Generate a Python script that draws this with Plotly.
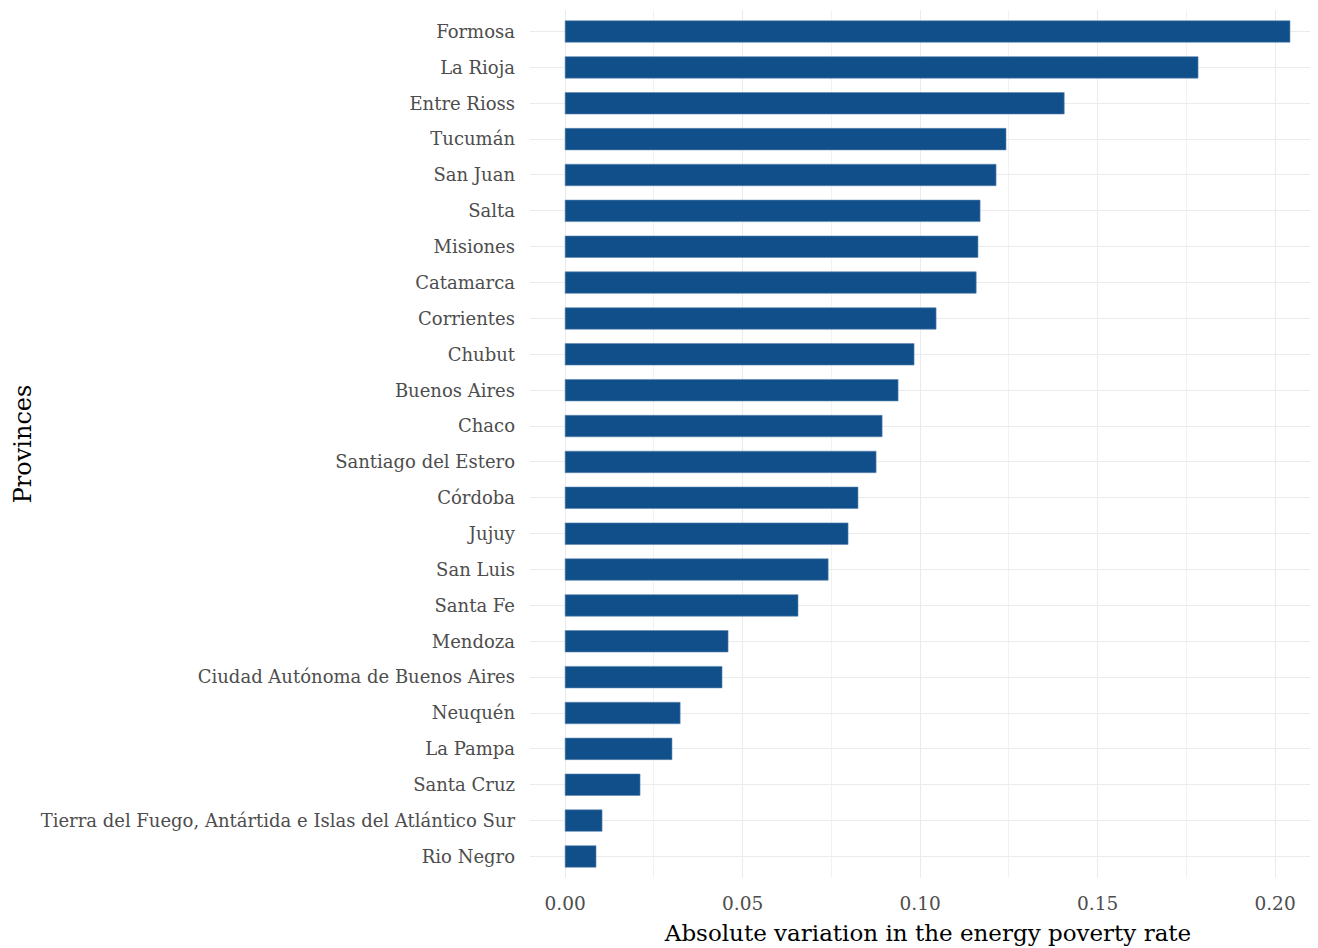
import plotly.graph_objects as go

provinces = ["Formosa", "La Rioja", "Entre Rioss", "Tucumán", "San Juan", "Salta", "Misiones",
             "Catamarca", "Corrientes", "Chubut", "Buenos Aires", "Chaco", "Santiago del Estero",
             "Córdoba", "Jujuy", "San Luis", "Santa Fe", "Mendoza", "Ciudad Autónoma de Buenos Aires",
             "Neuquén", "La Pampa", "Santa Cruz", "Tierra del Fuego, Antártida e Islas del Atlántico Sur",
             "Rio Negro"]
values = [0.2042, 0.1783, 0.1406, 0.1242, 0.1214, 0.1169, 0.1163, 0.1158, 0.1045, 0.0983,
          0.0938, 0.0893, 0.0876, 0.0825, 0.0797, 0.0741, 0.0656, 0.0459, 0.0442, 0.0324,
          0.0301, 0.0211, 0.0104, 0.0087]
tick_vals = [0.0, 0.05, 0.10, 0.15, 0.20]
tick_text = ["0.00", "0.05", "0.10", "0.15", "0.20"]

FONT = "DejaVu Serif"

fig = go.Figure(go.Bar(
    x=values, y=provinces, orientation="h", width=0.6,
    marker=dict(color="#114F8A", line=dict(color="#5C86B0", width=0.6)),
))

fig.update_layout(
    width=1318, height=948,
    margin=dict(l=522, r=0, t=2, b=78),
    plot_bgcolor="white", paper_bgcolor="white",
    font=dict(family=FONT, color="#4D4D4D"),
    showlegend=False,
)
fig.update_xaxes(
    range=[-0.0099, 0.21435],
    tickvals=tick_vals, ticktext=tick_text,
    tickfont=dict(size=18.5, color="#4D4D4D", family=FONT),
    showgrid=True, gridcolor="#EBEBEB", gridwidth=1.4,
    minor=dict(dtick=0.025, tick0=0, showgrid=True, gridcolor="#F2F2F2", gridwidth=0.8),
    zeroline=False, showline=False, ticks="",
    ticklabelstandoff=12,
    title=dict(text="Absolute variation in the energy poverty rate",
               font=dict(size=23, color="black", family=FONT), standoff=12),
)
fig.update_yaxes(
    categoryorder="array", categoryarray=provinces[::-1],
    range=[-0.6, len(provinces) - 0.4],
    tickfont=dict(size=18, color="#4D4D4D", family=FONT),
    showgrid=True, gridcolor="#EBEBEB", gridwidth=1.4,
    ticks="", ticklabelstandoff=14,
    title=dict(text="Provinces", font=dict(size=24, color="black", family=FONT), standoff=2),
)

fig.write_html("out.html")
